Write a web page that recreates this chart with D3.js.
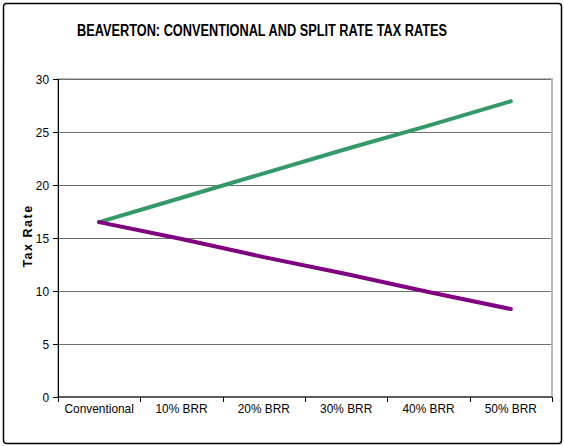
<!DOCTYPE html>
<html>
<head>
<meta charset="utf-8">
<script src="https://cdn.jsdelivr.net/npm/d3@7"></script>
<style>
  html, body { margin: 0; padding: 0; background: #fff; }
  svg { display: block; }
  text { font-family: "Liberation Sans", Arial, sans-serif; }
</style>
</head>
<body>
<svg id="chart" width="564" height="446"></svg>
<script>
const categories = ["Conventional", "10% BRR", "20% BRR", "30% BRR", "40% BRR", "50% BRR"];
const splitLandRate = [16.5, 18.8, 21.1, 23.4, 25.6, 27.9];
const splitBuildingRate = [16.5, 14.9, 13.2, 11.6, 9.9, 8.3];
const yTicks = [0, 5, 10, 15, 20, 25, 30];
const titleText = "BEAVERTON: CONVENTIONAL AND SPLIT RATE TAX RATES";
const yLabel = "Tax Rate";

const svg = d3.select("#chart");
const W = 564, H = 446;
const plot = { left: 58, right: 552, top: 79, bottom: 397 };
const squeeze = 0.88;

// outer frame
svg.append("rect").attr("x", 3.5).attr("y", 3.5).attr("width", W - 6).attr("height", H - 6)
  .attr("rx", 3).attr("fill", "#fff").attr("stroke", "#000").attr("stroke-width", 1.5);

const x = d3.scaleBand().domain(categories).range([plot.left, plot.right]).padding(0);
const y = d3.scaleLinear().domain([0, 30]).range([plot.bottom, plot.top]);

// plot area border (gray)
svg.append("rect").attr("x", plot.left).attr("y", plot.top)
  .attr("width", plot.right - plot.left).attr("height", plot.bottom - plot.top)
  .attr("fill", "none").attr("stroke", "#b8b8b8").attr("stroke-width", 2);

// gridlines
svg.append("g").selectAll("line").data(yTicks.filter(d => d > 0)).join("line")
  .attr("x1", plot.left).attr("x2", plot.right - 1)
  .attr("y1", d => Math.round(y(d)) + 0.5).attr("y2", d => Math.round(y(d)) + 0.5)
  .attr("stroke", "#6e6e6e").attr("stroke-width", 1);

function squeezeText(sel) {
  sel.each(function () {
    const w = this.getComputedTextLength();
    d3.select(this).attr("textLength", w * squeeze).attr("lengthAdjust", "spacingAndGlyphs");
  });
}

// y axis
const yAxis = svg.append("g").attr("transform", `translate(${plot.left},0)`)
  .call(d3.axisLeft(y).tickValues(yTicks).tickSize(5).tickPadding(4));
yAxis.select(".domain").attr("stroke", "#000");
yAxis.selectAll(".tick line").attr("stroke", "#000");
yAxis.selectAll("text").attr("font-size", 13.5).attr("fill", "#000")
  .attr("font-family", "'Liberation Sans', Arial, sans-serif").call(squeezeText);

// x axis
const xAxis = svg.append("g").attr("transform", `translate(0,${plot.bottom})`)
  .call(d3.axisBottom(x).tickSize(0).tickPadding(6));
xAxis.select(".domain").remove();
xAxis.selectAll("text").attr("font-size", 13.5).attr("fill", "#000")
  .attr("font-family", "'Liberation Sans', Arial, sans-serif").call(squeezeText);
svg.append("line").attr("x1", plot.left).attr("x2", plot.right)
  .attr("y1", plot.bottom).attr("y2", plot.bottom).attr("stroke", "#000");
const bounds = categories.map(c => x(c)).concat([x(categories[categories.length - 1]) + x.bandwidth()]);
svg.append("g").selectAll("line").data(bounds).join("line")
  .attr("x1", d => Math.round(d) + 0.5).attr("x2", d => Math.round(d) + 0.5)
  .attr("y1", plot.bottom).attr("y2", plot.bottom + 5).attr("stroke", "#000");

// lines
const line = d3.line().x((d, i) => x(categories[i]) + x.bandwidth() / 2).y(d => y(d));
svg.append("path").datum(splitLandRate).attr("d", line)
  .attr("fill", "none").attr("stroke", "#339966").attr("stroke-width", 4).attr("stroke-linecap", "round");
svg.append("path").datum(splitBuildingRate).attr("d", line)
  .attr("fill", "none").attr("stroke", "#800080").attr("stroke-width", 4).attr("stroke-linecap", "round");

// title
svg.append("text").attr("x", 262).attr("y", 36).attr("text-anchor", "middle")
  .attr("font-size", 16).attr("font-weight", "bold").attr("fill", "#000")
  .attr("textLength", 370).attr("lengthAdjust", "spacingAndGlyphs")
  .text(titleText);

// y label
svg.append("text").attr("transform", "translate(32,236) rotate(-90)").attr("text-anchor", "middle")
  .attr("font-size", 12.5).attr("font-weight", "bold").attr("letter-spacing", 1.5).attr("fill", "#000")
  .text(yLabel);
</script>
</body>
</html>
